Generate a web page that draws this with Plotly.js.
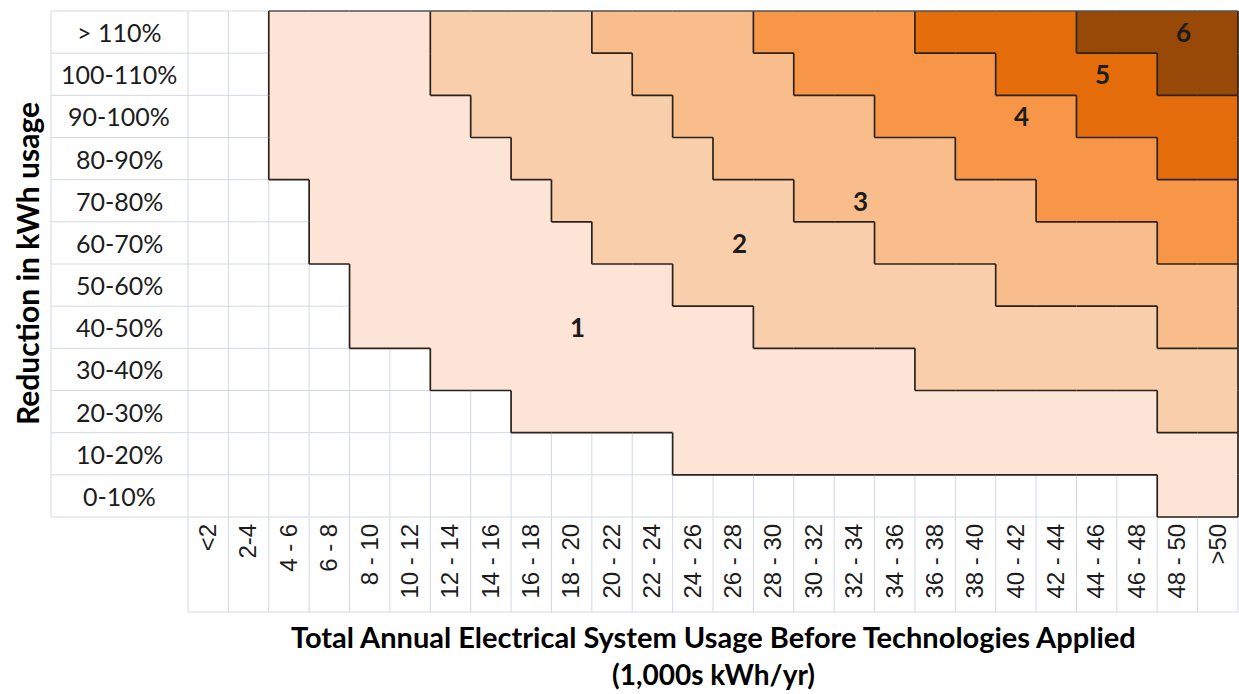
<!DOCTYPE html>
<html><head><meta charset="utf-8">
<script src="https://cdn.plot.ly/plotly-3.0.1.min.js"></script>
<style>html,body{margin:0;padding:0;background:#fff}#chart{width:1239px;height:694px}</style>
</head><body><div id="chart"></div>
<script>
// ---- data ----
const usageBins = ['<2','2-4','4 - 6','6 - 8','8 - 10','10 - 12','12 - 14','14 - 16','16 - 18','18 - 20','20 - 22','22 - 24','24 - 26','26 - 28','28 - 30','30 - 32','32 - 34','34 - 36','36 - 38','38 - 40','40 - 42','42 - 44','44 - 46','46 - 48','48 - 50','>50'];
const reductionBins = ['> 110%','100-110%','90-100%','80-90%','70-80%','60-70%','50-60%','40-50%','30-40%','20-30%','10-20%','0-10%'];
// per usage bin: how many reduction rows (counted from the top) are at least this level
const reachLevel1 = [0,0,4,6,8,8,9,9,10,10,10,10,11,11,11,11,11,11,11,11,11,11,11,11,12,12];
const reachLevel2 = [0,0,0,0,0,0,2,3,4,5,6,6,7,7,8,8,8,8,9,9,9,9,9,9,10,10];
const reachLevel3 = [0,0,0,0,0,0,0,0,0,0,1,2,3,4,4,5,5,6,6,6,7,7,7,7,8,8];
const reachLevel4 = [0,0,0,0,0,0,0,0,0,0,0,0,0,0,1,2,2,3,3,4,4,5,5,5,6,6];
const reachLevel5 = [0,0,0,0,0,0,0,0,0,0,0,0,0,0,0,0,0,0,1,1,2,2,3,3,4,4];
const reachLevel6 = [0,0,0,0,0,0,0,0,0,0,0,0,0,0,0,0,0,0,0,0,0,0,1,1,2,2];
const zoneLabels = ['1','2','3','4','5','6'];
const zoneLabelBin = ['18 - 20','26 - 28','32 - 34','40 - 42','44 - 46','48 - 50'];
const zoneLabelRow = ['40-50%','60-70%','70-80%','90-100%','100-110%','> 110%'];
const levelColors = ['#FCE4D6','#F9CFAB','#F8BD8A','#F79646','#E46C0A','#984807'];
const xTitle1 = 'Total Annual Electrical System Usage Before Technologies Applied';
const xTitle2 = '(1,000s kWh/yr)';
const yTitle = 'Reduction in kWh usage';

// ---- build matrix ----
const reaches = [reachLevel1, reachLevel2, reachLevel3, reachLevel4, reachLevel5, reachLevel6];
const nR = reductionBins.length, nC = usageBins.length;
function lev(r, c) { let L = 0; reaches.forEach(a => { if (r < a[c]) L++; }); return L; }
const z = [];
for (let r = 0; r < nR; r++) { const row = []; for (let c = 0; c < nC; c++) { const L = lev(r, c); row.push(L ? L : null); } z.push(row); }
const colorscale = [];
levelColors.forEach((col, i) => { colorscale.push([i / 6, col]); colorscale.push([(i + 1) / 6, col]); });

const xIdx = usageBins.map((_, i) => i), yIdx = reductionBins.map((_, i) => i);

// ---- styling constants (positions of the table frame) ----
const gridCol = '#D3D8E2', edgeCol = '#2a221c';
const labelBottom = -0.18775, labelLeft = -0.13048;
const shapes = [];
function ln(o, layer, color, w) { shapes.push(Object.assign({type: 'line', layer: layer, line: {color: color, width: w}}, o)); }
// light cell grid
for (let c = 0; c <= nC; c++) {
  if (c === 0) ln({xref: 'paper', x0: 0, x1: 0, yref: 'paper', y0: labelBottom, y1: 1}, 'below', gridCol, 1);
  else if (c === nC) ln({xref: 'paper', x0: 1, x1: 1, yref: 'paper', y0: labelBottom, y1: 1}, 'below', gridCol, 1);
  else ln({xref: 'x', x0: c - 0.5, x1: c - 0.5, yref: 'paper', y0: labelBottom, y1: 1}, 'below', gridCol, 1);
}
for (let r = 0; r <= nR; r++) {
  if (r === 0) ln({xref: 'paper', x0: labelLeft, x1: 1, yref: 'paper', y0: 1, y1: 1}, 'below', gridCol, 1);
  else if (r === nR) ln({xref: 'paper', x0: labelLeft, x1: 1, yref: 'paper', y0: 0, y1: 0}, 'below', gridCol, 1);
  else ln({xref: 'paper', x0: labelLeft, x1: 1, yref: 'y', y0: r - 0.5, y1: r - 0.5}, 'below', gridCol, 1);
}
ln({xref: 'paper', x0: 0, x1: 1, yref: 'paper', y0: labelBottom, y1: labelBottom}, 'below', gridCol, 1);
ln({xref: 'paper', x0: labelLeft, x1: labelLeft, yref: 'paper', y0: 0, y1: 1}, 'below', gridCol, 1);
// zone boundaries derived from the level matrix
const bw = 1.7;
for (let r = 0; r < nR; r++) {
  for (let c = 0; c < nC; c++) {
    const L = lev(r, c);
    if (c < nC - 1) { if (lev(r, c + 1) !== L) ln({xref: 'x', x0: c + 0.5, x1: c + 0.5, yref: 'y', y0: r - 0.5, y1: r + 0.5}, 'above', edgeCol, bw); }
    else if (L > 0) ln({xref: 'paper', x0: 1, x1: 1, yref: 'y', y0: r - 0.5, y1: r + 0.5}, 'above', edgeCol, bw);
    if (r < nR - 1) { if (lev(r + 1, c) !== L) ln({xref: 'x', x0: c - 0.5, x1: c + 0.5, yref: 'y', y0: r + 0.5, y1: r + 0.5}, 'above', edgeCol, bw); }
    else if (L > 0) ln({xref: 'x', x0: c - 0.5, x1: c + 0.5, yref: 'paper', y0: 0, y1: 0}, 'above', edgeCol, bw);
    if (r === 0 && L > 0) ln({xref: 'x', x0: c - 0.5, x1: c + 0.5, yref: 'paper', y0: 1, y1: 1}, 'above', '#555', 1.6);
  }
}

const textCol = '#1c1c1c';
const annotations = [];
reductionBins.forEach((t, i) => annotations.push({xref: 'paper', x: -0.06524, yref: 'y', y: i, text: t, showarrow: false, xanchor: 'center', yanchor: 'middle', font: {family: 'Lato, sans-serif', size: 25, color: textCol}}));
zoneLabels.forEach((t, i) => annotations.push({xref: 'x', x: usageBins.indexOf(zoneLabelBin[i]), yref: 'y', y: reductionBins.indexOf(zoneLabelRow[i]), xshift: 6, text: '<b>' + t + '</b>', showarrow: false, font: {family: 'Lato, sans-serif', size: 26, color: textCol}}));
annotations.push({xref: 'paper', x: 0.5, yref: 'paper', y: -0.2352, yanchor: 'middle', text: '<b>' + xTitle1 + '</b>', showarrow: false, font: {family: 'Lato, sans-serif', size: 29, color: '#000'}});
annotations.push({xref: 'paper', x: 0.5, yref: 'paper', y: -0.3100, yanchor: 'middle', text: '<b>' + xTitle2 + '</b>', showarrow: false, font: {family: 'Lato, sans-serif', size: 28, color: '#000'}});
annotations.push({xref: 'paper', x: -0.1533, yref: 'paper', y: 0.5, xanchor: 'center', yanchor: 'middle', textangle: -90, text: '<b>' + yTitle + '</b>', showarrow: false, font: {family: 'Lato, sans-serif', size: 30, color: '#000'}});

const trace = {type: 'heatmap', x: xIdx, y: yIdx, z: z, zmin: 0.5, zmax: 6.5, colorscale: colorscale, showscale: false, hoverinfo: 'skip', xgap: 0, ygap: 0};
const layout = {
  width: 1239, height: 694, margin: {l: 188, r: 1, t: 11, b: 177, pad: 0},
  paper_bgcolor: '#fff', plot_bgcolor: '#fff', showlegend: false,
  xaxis: {range: [-0.5, nC - 0.5], tickmode: 'array', tickvals: xIdx, ticktext: usageBins, tickangle: -90, ticks: '', showgrid: false, zeroline: false, showline: false, ticklabelstandoff: 1, tickfont: {family: 'Liberation Sans, Arial, sans-serif', size: 24, color: textCol}, fixedrange: true},
  yaxis: {range: [nR - 0.5, -0.5], showticklabels: false, ticks: '', showgrid: false, zeroline: false, showline: false, fixedrange: true},
  shapes: shapes, annotations: annotations
};
Plotly.newPlot('chart', [trace], layout, {staticPlot: true, displayModeBar: false});
</script></body></html>
